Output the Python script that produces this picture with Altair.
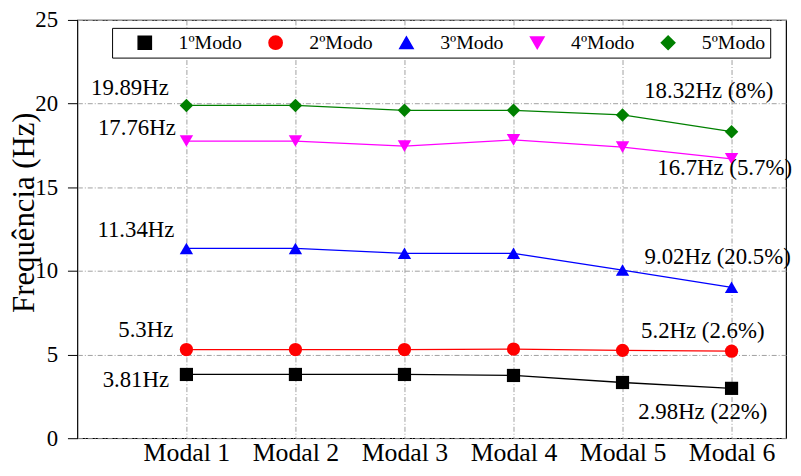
import json
import altair as alt
import pandas as pd

# ---------------- data ----------------
categories = ["Modal 1", "Modal 2", "Modal 3", "Modal 4", "Modal 5", "Modal 6"]
series_names = ["1ºModo", "2ºModo", "3ºModo", "4ºModo", "5ºModo"]
modo1 = [3.81, 3.81, 3.81, 3.75, 3.33, 2.98]
modo2 = [5.30, 5.30, 5.30, 5.33, 5.25, 5.20]
modo3 = [11.34, 11.34, 11.05, 11.05, 10.05, 9.02]
modo4 = [17.76, 17.76, 17.46, 17.83, 17.40, 16.70]
modo5 = [19.89, 19.89, 19.60, 19.60, 19.32, 18.32]
series_values = [modo1, modo2, modo3, modo4, modo5]
series_colors = ["#000000", "#ff0000", "#0000ff", "#ff00ff", "#008000"]
left_labels = ["3.81Hz", "5.3Hz", "11.34Hz", "17.76Hz", "19.89Hz"]
right_labels = ["2.98Hz (22%)", "5.2Hz (2.6%)", "9.02Hz (20.5%)", "16.7Hz (5.7%)", "18.32Hz (8%)"]
y_title = "Frequência (Hz)"
y_major = [0, 5, 10, 15, 20, 25]

rows = []
for s, vals in zip(series_names, series_values):
    for i, (c, v) in enumerate(zip(categories, vals)):
        rows.append({"idx": i + 1, "Modal": c, "Serie": s, "freq": v})
df = pd.DataFrame(rows)

ann_rows = []
for k, (s, vals) in enumerate(zip(series_names, series_values)):
    ann_rows.append({"idx": 1, "freq": vals[0], "label": left_labels[k]})
    ann_rows.append({"idx": len(categories), "freq": vals[-1], "label": right_labels[k]})
ann_df = pd.DataFrame(ann_rows)

n = len(categories)
idx_values = list(range(1, n + 1))
X_MAX = n + 0.5
Y_MAX = 25

# ---------------- styles ----------------
FONT = "Liberation Serif"
GRID = "#a0a0a0"
DASH = [5, 2, 1, 2]

x_scale = alt.Scale(domain=[0, X_MAX], nice=False, zero=False)
y_scale = alt.Scale(domain=[0, Y_MAX], nice=False)
color_scale = alt.Scale(domain=series_names, range=series_colors)
shapes = ["square", "circle", "triangle-up", "triangle-down", "diamond"]
sizes = [177, 185, 250, 250, 300]

cat_expr = json.dumps(categories) + "[datum.value - 1]"

base = alt.Chart(df)

x_main = alt.Axis(values=idx_values, labelExpr=cat_expr, title=None, grid=True,
                  gridColor=GRID, gridDash=DASH, gridWidth=1, domain=False,
                  ticks=False, tickSize=0, labelFont=FONT, labelFontSize=26,
                  labelColor="black", labelPadding=2, labelOverlap=False)
y_main = alt.Axis(values=y_major, title=y_title, grid=True, gridColor=GRID,
                  gridDash=DASH, gridWidth=1, domain=False, ticks=True,
                  tickSize=10, tickColor="black", tickWidth=1,
                  labelFont=FONT, labelFontSize=23, labelColor="black",
                  labelPadding=10, titleFont=FONT, titleFontSize=31,
                  titleFontWeight="normal", titleColor="black",
                  titleX=-44, titleY=194, titleBaseline="alphabetic")

leg_props = dict(title=None, orient="none", legendX=35, legendY=8,
                 direction="horizontal", strokeColor="black", fillColor="white",
                 padding=5, columnPadding=6, symbolSize=180,
                 symbolOffset=18, labelOffset=24, labelFont=FONT,
                 labelFontSize=20, labelColor="black")

lines = base.mark_line(strokeWidth=1.3).encode(
    x=alt.X("idx:Q", scale=x_scale, axis=x_main),
    y=alt.Y("freq:Q", scale=y_scale, axis=y_main),
    color=alt.Color("Serie:N", scale=color_scale, legend=alt.Legend(**leg_props)),
)

points = base.mark_point(filled=True, opacity=1).encode(
    x=alt.X("idx:Q", scale=x_scale, axis=x_main),
    y=alt.Y("freq:Q", scale=y_scale, axis=y_main),
    color=alt.Color("Serie:N", scale=color_scale, legend=alt.Legend(**leg_props)),
    shape=alt.Shape("Serie:N", scale=alt.Scale(domain=series_names, range=shapes),
                    legend=alt.Legend(**leg_props)),
    size=alt.Size("Serie:N", scale=alt.Scale(domain=series_names, range=sizes),
                  legend=None),
)

# annotation offsets (style), one per label
left_off = [(-51, 13), (-41, -13), (-51, -12), (-50, -6), (-57, -11)]
right_off = [(-29, 31), (-29, -13), (-14, -23), (-7, 16), (-23, -34)]
text_layers = []
for k in range(len(series_names)):
    for lbl, (dx, dy) in ((left_labels[k], left_off[k]), (right_labels[k], right_off[k])):
        text_layers.append(
            alt.Chart(ann_df).transform_filter(alt.datum.label == lbl)
            .mark_text(font=FONT, fontSize=23, color="black", align="center",
                       baseline="alphabetic", dx=dx, dy=dy)
            .encode(x=alt.X("idx:Q", scale=x_scale, axis=x_main),
                    y=alt.Y("freq:Q", scale=y_scale, axis=y_main),
                    text="label:N")
        )

chart = (
    alt.layer(lines, points, *text_layers)
    .properties(width=715, height=422,
                autosize=alt.AutoSizeParams(type="none"),
                padding={"left": 70, "top": 10, "right": 7, "bottom": 26})
    .configure_view(stroke="black", strokeWidth=1.2)
)

chart.save("out.html", embed_options={"renderer": "svg", "actions": False})
